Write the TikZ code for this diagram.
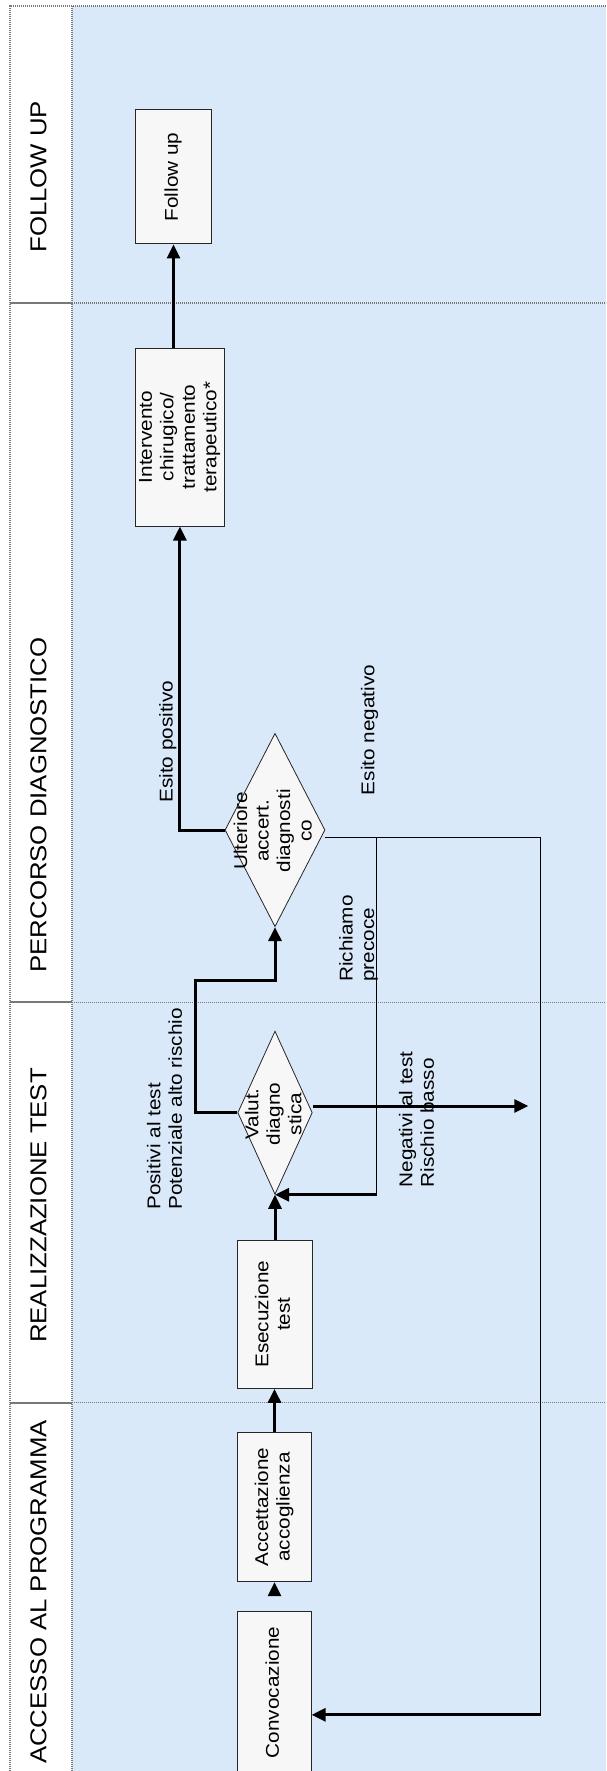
\documentclass[tikz,border=0pt]{standalone}
\usepackage{fontspec}
\setmainfont{Liberation Sans}
\usepackage{graphicx}
\usetikzlibrary{arrows.meta,shapes.geometric}

\definecolor{lanebg}{RGB}{218,233,249}
\definecolor{boxfill}{RGB}{247,247,247}
\definecolor{rulegray}{RGB}{120,120,120}

% text set bottom-to-top, slightly widened along the baseline
\newcommand{\vlines}[2][c]{\rotatebox{90}{\scalebox{1.12}[1]{\begin{tabular}{@{}#1@{}}#2\end{tabular}}}}

\begin{document}
\begin{tikzpicture}[x=1pt,y=-1pt,
  box/.style={draw=black!85, line width=1pt, fill=boxfill, inner sep=0pt,
              font=\fontsize{18.5}{21.5}\selectfont},
  decision/.style={diamond, draw=black!85, line width=0.8pt, fill=boxfill, inner sep=0pt},
  lbl/.style={inner sep=0pt, font=\fontsize{18.5}{21.5}\selectfont},
  head/.style={inner sep=0pt, font=\fontsize{23}{27}\selectfont},
  flow/.style={line width=3pt, -{Triangle[width=13pt,length=14pt]}},
  link/.style={line width=1.1pt},
  divider/.style={draw=rulegray, line width=1.3pt, dash pattern=on 1.1pt off 0.9pt},
  headrule/.style={draw=rulegray, line width=2.2pt}]

\useasboundingbox (0,0) rectangle (606,1771);

% swimlane frame: header column and lane area
\fill[white] (10,6) rectangle (72,1771);
\fill[lanebg] (72,6) rectangle (606,1771);
\draw[divider] (10,1771) -- (10,6) -- (606,6);
\draw[divider] (72,6) -- (72,1771);
\foreach \yy in {303,1002.2,1402.7}{
  \draw[headrule] (10,\yy) -- (72,\yy);
  \draw[divider] (72,\yy) -- (606,\yy);
}

% lane titles
\node[head] (hFollow) at (41,176.7) {\vlines{FOLLOW UP}};
\node[head] (hPerc)   at (41,805)   {\vlines{PERCORSO DIAGNOSTICO}};
\node[head] (hReal)   at (41,1205.5){\vlines{REALIZZAZIONE TEST}};
\node[head] (hAcc)    at (41,1592)  {\vlines{ACCESSO AL PROGRAMMA}};

% process steps
\node[box, minimum width=75.6pt, minimum height=134pt] (followup) at (173.5,177)
  {\vlines{Follow up}};
\node[box, minimum width=88.3pt, minimum height=178pt] (intervento) at (179.9,437)
  {\vlines{Intervento\\chirugico/\\trattamento\\terapeutico*}};
\node[box, minimum width=75.5pt, minimum height=148.3pt] (esec) at (274.8,1314.2)
  {\vlines{Esecuzione\\test}};
\node[box, minimum width=73.3pt, minimum height=149.4pt] (acc) at (274.5,1507)
  {\vlines{Accettazione\\accoglienza}};
\node[box, minimum width=73.3pt, minimum height=161.4pt] (conv) at (274.5,1692.4)
  {\vlines{Convocazione}};

% decisions
\node[decision, minimum width=100pt, minimum height=193.4pt] (ult) at (275,830) {};
\node[lbl] (ultT) at (275,830.8) {\vlines{Ulteriore\\accert.\\diagnosti\\co}};
\node[decision, minimum width=74.6pt, minimum height=163.3pt] (valut) at (275,1112.7) {};
\node[lbl] (valutT) at (275.6,1114) {\vlines{Valut.\\diagno\\stica}};

% branch labels
\node[lbl] (tEsPos) at (168.3,741.7) {\vlines{Esito positivo}};
\node[lbl] (tEsNeg) at (370,730) {\vlines{Esito negativo}};
\node[lbl, anchor=south] (tRich) at (359,982) {\vlines[l]{Richiamo\\precoce}};
\node[lbl, anchor=south] (tPos) at (166.7,1210) {\vlines[l]{Positivi al test\\Potenziale alto rischio}};
\node[lbl, anchor=south] (tNeg) at (418.7,1187.5) {\vlines[l]{Negativi al test\\Rischio basso}};

% routing points
\coordinate (cPos) at (195.7,980);
\coordinate (cNeg) at (528.3,1106);
\coordinate (cRich) at (376.7,837.7);
\coordinate (cRight) at (540.5,837.7);
\coordinate (cRightLow) at (540.5,1714.8);

% connectors
\draw[flow] (followup.south |- intervento.north) -- (followup.south);
\draw[flow] (ult.west) -| (intervento.south);
\draw[flow] (valut.west) -| (cPos) -| (ult.south);
\draw[flow] (esec.north -| valut.south) -- (valut.south);
\draw[flow] (acc.north) -- (acc.north |- esec.south);
\draw[flow, shorten <=15pt] (conv.north) -- (acc.south);
\draw[flow] (valut.east |- cNeg) -- (cNeg);
\draw[link] (ult.east |- cRich) -- (cRich) -- (cRight) -- (cRightLow);
\draw[flow] (cRightLow) -- (conv.east |- cRightLow);
\draw[link] (cRich) -- (cRich |- valut.south);
\draw[flow] (cRich |- valut.south) -- (valut.south);

\end{tikzpicture}
\end{document}
